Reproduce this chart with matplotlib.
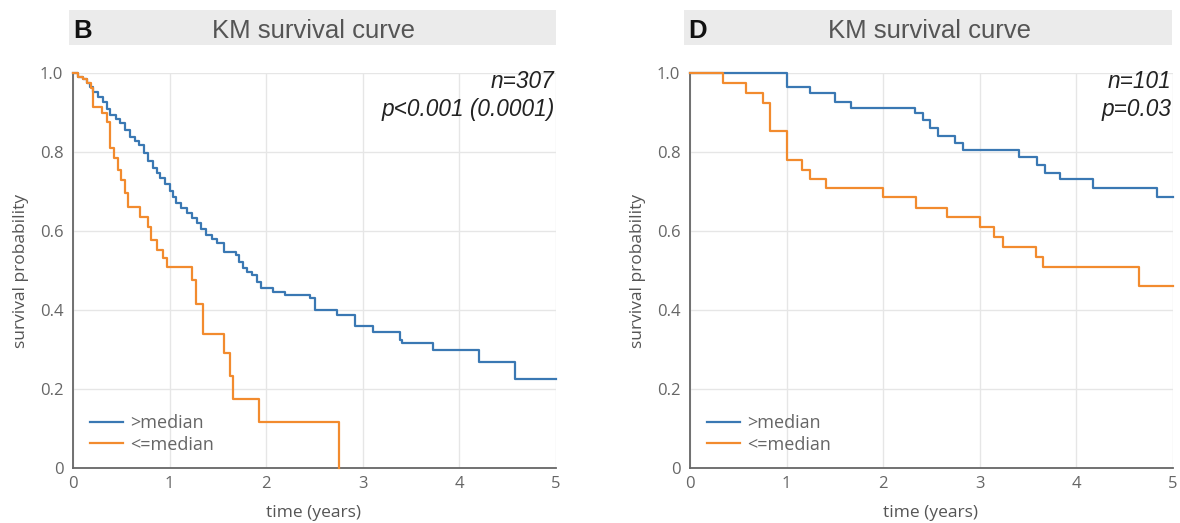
import matplotlib
matplotlib.use("Agg")
import matplotlib.pyplot as plt
from matplotlib.patches import Rectangle
from matplotlib.lines import Line2D

# ---------------- data ----------------
b_hi_t = [0, 0.05, 0.10, 0.14, 0.18, 0.21, 0.26, 0.31, 0.35, 0.38, 0.44, 0.49, 0.54, 0.59,
          0.64, 0.68, 0.73, 0.78, 0.83, 0.87, 0.90, 0.95, 1.00, 1.04, 1.07, 1.12, 1.18, 1.23,
          1.28, 1.33, 1.38, 1.44, 1.49, 1.56, 1.69, 1.72, 1.76, 1.80, 1.85, 1.90, 1.95, 2.07,
          2.19, 2.45, 2.51, 2.73, 2.92, 3.11, 3.39, 3.41, 3.73, 4.20, 4.58, 5.0]
b_hi_s = [1.0, 0.99, 0.985, 0.975, 0.965, 0.953, 0.94, 0.927, 0.91, 0.894, 0.884, 0.873, 0.856, 0.839,
          0.828, 0.818, 0.797, 0.778, 0.760, 0.748, 0.735, 0.718, 0.701, 0.685, 0.670, 0.657, 0.645, 0.632,
          0.620, 0.605, 0.590, 0.580, 0.569, 0.548, 0.539, 0.522, 0.506, 0.497, 0.489, 0.472, 0.455, 0.446,
          0.438, 0.430, 0.400, 0.388, 0.359, 0.344, 0.325, 0.317, 0.298, 0.268, 0.225, 0.225]

b_lo_t = [0, 0.05, 0.10, 0.14, 0.19, 0.21, 0.30, 0.35, 0.38, 0.42, 0.47, 0.50, 0.54, 0.57,
          0.69, 0.78, 0.81, 0.87, 0.93, 0.97, 1.23, 1.27, 1.35, 1.56, 1.63, 1.66, 1.93, 2.75]
b_lo_s = [1.0, 0.99, 0.985, 0.975, 0.961, 0.915, 0.898, 0.877, 0.809, 0.784, 0.754, 0.729, 0.695, 0.662,
          0.636, 0.611, 0.577, 0.552, 0.531, 0.509, 0.477, 0.414, 0.338, 0.292, 0.233, 0.174, 0.117, 0.0]

d_hi_t = [0, 1.0, 1.24, 1.50, 1.67, 2.33, 2.41, 2.48, 2.57, 2.74, 2.83, 3.41, 3.59, 3.67, 3.83, 4.17, 4.83, 5.0]
d_hi_s = [1.0, 0.965, 0.949, 0.927, 0.912, 0.898, 0.881, 0.860, 0.841, 0.824, 0.805, 0.787, 0.767, 0.748,
          0.731, 0.708, 0.687, 0.687]

d_lo_t = [0, 0.34, 0.58, 0.76, 0.83, 1.0, 1.16, 1.24, 1.41, 2.0, 2.34, 2.66, 3.0, 3.15, 3.24, 3.58, 3.65, 4.65, 5.0]
d_lo_s = [1.0, 0.974, 0.950, 0.925, 0.854, 0.781, 0.754, 0.731, 0.708, 0.685, 0.659, 0.635, 0.609, 0.586,
          0.560, 0.535, 0.508, 0.461, 0.461]

series_labels = [">median", "<=median"]
panel_letters = ["B", "D"]
panel_title = "KM survival curve"
annotations = [["n=307", "p<0.001 (0.0001)"], ["n=101", "p=0.03"]]
xticks = [0, 1, 2, 3, 4, 5]
yticks = [0, 0.2, 0.4, 0.6, 0.8, 1.0]
ytick_labels = ["0", "0.2", "0.4", "0.6", "0.8", "1.0"]

# ---------------- style ----------------
BLUE = "#3a78b3"
ORANGE = "#f28b2e"
GRID = "#e6e6e6"
TICKC = "#666666"
LABC = "#555555"
W, H = 1180, 523

fig = plt.figure(figsize=(W / 100, H / 100), dpi=100)

panels = [
    dict(ax_px=(73, 556), bar_px=(69, 556), title_cx=314, letter_x=73,
         hi=(b_hi_t, b_hi_s), lo=(b_lo_t, b_lo_s), ylab_x=-0.092),
    dict(ax_px=(690, 1173), bar_px=(684, 1172), title_cx=930, letter_x=688,
         hi=(d_hi_t, d_hi_s), lo=(d_lo_t, d_lo_s), ylab_x=-0.092),
]

y_top, y_bot = 73, 468
for i, p in enumerate(panels):
    x0, x1 = p["ax_px"]
    ax = fig.add_axes([x0 / W, 1 - y_bot / H, (x1 - x0) / W, (y_bot - y_top) / H])
    ax.set_xlim(0, 5)
    ax.set_ylim(0, 1.0)
    ax.set_xticks(xticks)
    ax.set_yticks(yticks)
    ax.set_yticklabels(ytick_labels)
    ax.grid(True, color=GRID, linewidth=1.0)
    ax.set_axisbelow(True)
    for s in ["top", "right"]:
        ax.spines[s].set_visible(False)
    for s in ["left", "bottom"]:
        ax.spines[s].set_color("#666666")
        ax.spines[s].set_linewidth(1.3)
    ax.tick_params(axis="y", length=0, labelsize=12, labelcolor=TICKC, pad=7)
    ax.tick_params(axis="x", length=0, labelsize=12, labelcolor=TICKC, pad=6)
    for lab in ax.get_xticklabels() + ax.get_yticklabels():
        lab.set_fontfamily("Open Sans")

    ax.plot(p["hi"][0], p["hi"][1], drawstyle="steps-post", color=BLUE, lw=1.6, clip_on=False, zorder=3)
    ax.plot(p["lo"][0], p["lo"][1], drawstyle="steps-post", color=ORANGE, lw=1.6, clip_on=False, zorder=3)

    ax.set_ylabel("survival probability", fontsize=12.5, color=LABC, family="Open Sans")
    ax.yaxis.set_label_coords(p["ylab_x"], 0.5)
    ax.set_xlabel("time (years)", fontsize=12.5, color=LABC, family="Open Sans")
    ax.xaxis.set_label_coords(0.497, -0.094)

    handles = [Line2D([], [], color=BLUE, lw=1.6), Line2D([], [], color=ORANGE, lw=1.6)]
    leg = ax.legend(handles, series_labels, loc="lower left", bbox_to_anchor=(0.005, 0.0),
                    frameon=False, prop={"family": "Open Sans", "size": 13},
                    handlelength=1.85, handletextpad=0.4, labelspacing=0.2, borderpad=0.3)
    for t in leg.get_texts():
        t.set_color(TICKC)

    # title bar
    bx0, bx1 = p["bar_px"]
    fig.patches.append(Rectangle((bx0 / W, 1 - 45 / H), (bx1 - bx0) / W, 35.5 / H,
                                 transform=fig.transFigure, facecolor="#ebebeb",
                                 edgecolor="none", zorder=0))
    fig.text(p["title_cx"] / W, 1 - 37.5 / H, panel_title, ha="center", va="baseline",
             fontsize=18.5, color="#555555", family="Liberation Sans")
    fig.text(p["letter_x"] / W, 1 - 38.3 / H, panel_letters[i], ha="left", va="baseline",
             fontsize=18.5, fontweight="bold", color="#111111", family="Liberation Sans")

    # annotations
    fig.text(x1 / W - 2 / W, 1 - 88.5 / H, annotations[i][0], ha="right", va="baseline",
             fontsize=16.3, style="italic", color="#222222", family="Liberation Sans")
    fig.text(x1 / W - 1 / W, 1 - 116 / H, annotations[i][1], ha="right", va="baseline",
             fontsize=16.3, style="italic", color="#222222", family="Liberation Sans")

fig.savefig("out.png", dpi=100)
